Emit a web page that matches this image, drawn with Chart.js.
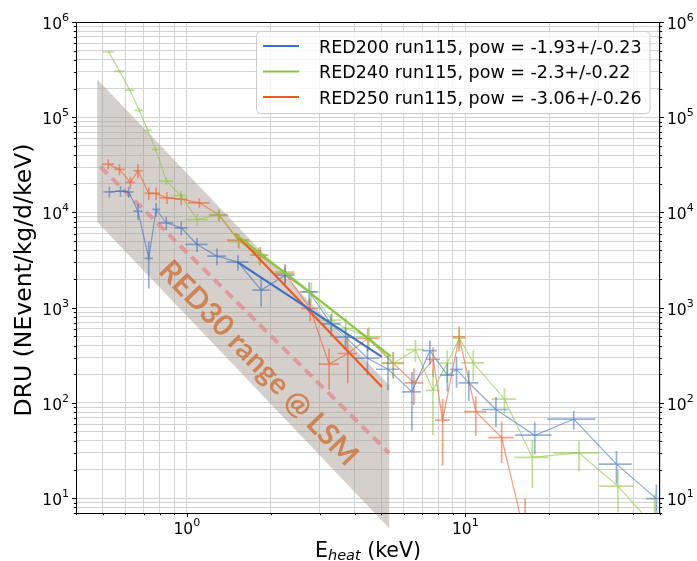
<!DOCTYPE html>
<html>
<head>
<meta charset="utf-8">
<script src="https://cdn.jsdelivr.net/npm/chart.js@4.4.1/dist/chart.umd.min.js"></script>
<style>
  html, body { margin: 0; padding: 0; background: #fff; }
</style>
</head>
<body>
<canvas id="chart" width="697" height="561"></canvas>
<script>
// RED200 run115 (blue)
const red200X = [0.527, 0.578, 0.618, 0.668, 0.730, 0.776, 0.844, 0.955, 1.088, 1.283, 1.526, 1.849, 2.254, 2.749, 3.295, 3.715, 4.454, 5.275, 6.43, 7.46, 8.62, 9.30, 10.29, 12.88, 17.75, 24.5, 34.9, 48.5];
const red200Y = [16500, 16790, 16500, 10340, 3296, 10780, 7795, 6906, 4623, 3483, 3013, 1531, 2199, 1469, 677, 491, 295, 226, 131, 354, 196, 225, 163, 85.5, 45.9, 67.6, 22.8, 9.9];
const red200XErr = [0.025, 0.025, 0.025, 0.025, 0.025, 0.025, 0.05, 0.05, 0.1, 0.1, 0.14, 0.13, 0.18, 0.2, 0.27, 0.3, 0.45, 0.5, 0.5, 0.45, 0.5, 0.5, 0.85, 1.4, 2.65, 4.8, 4.7, 4];
const red200YErr = [2150, 2150, 2100, 2000, 1700, 1800, 1300, 1150, 780, 700, 550, 500, 450, 400, 180, 130, 100, 90, 80, 100, 64, 80, 58, 30, 17, 15, 8.6, 4];

// RED240 run115 (green)
const red240X = [0.5245, 0.574, 0.624, 0.674, 0.724, 0.773, 0.844, 0.952, 1.090, 1.297, 1.542, 1.809, 2.254, 2.794, 3.314, 3.721, 4.510, 5.510, 6.62, 7.65, 8.61, 9.52, 10.68, 13.82, 17.39, 25.6, 35.3, 47.8];
const red240Y = [484000, 303400, 193100, 118200, 72850, 46000, 21530, 15050, 8423, 9506, 4947, 3567, 2383, 1469, 741, 606, 495, 260, 363, 136, 262, 479, 264, 110, 26.8, 29.9, 13.4, 5];
const red240XErr = [0.025, 0.025, 0.025, 0.025, 0.025, 0.025, 0.05, 0.05, 0.1, 0.1, 0.14, 0.13, 0.18, 0.2, 0.27, 0.3, 0.45, 0.5, 0.5, 0.45, 0.5, 0.5, 1.0, 1.4, 2.4, 4.8, 5, 4];
const red240YErr = [14000, 10000, 7000, 5000, 3500, 2500, 2000, 1800, 1200, 1300, 800, 700, 480, 360, 180, 180, 130, 80, 95, 90, 97, 110, 95, 33, 14, 10.7, 6.3, 6];

// RED250 run115 (orange)
const red250X = [0.522, 0.573, 0.627, 0.668, 0.730, 0.776, 0.849, 0.955, 1.109, 1.307, 1.533, 1.834, 2.254, 2.771, 3.242, 3.783, 4.462, 5.510, 6.538, 7.664, 8.285, 9.50, 10.9, 13.5, 16.4];
const red250Y = [32230, 28360, 20710, 27420, 15870, 15870, 14270, 13830, 12640, 9390, 5130, 3567, 2292, 983, 256, 331, 476, 262, 163, 288, 66, 495, 81, 43.4, 4];
const red250XErr = [0.025, 0.025, 0.025, 0.025, 0.025, 0.025, 0.05, 0.05, 0.1, 0.1, 0.14, 0.13, 0.18, 0.2, 0.27, 0.3, 0.45, 0.5, 0.5, 0.45, 0.5, 0.5, 1.0, 1.4, 2];
const red250YErr = [4000, 3700, 3000, 4600, 2400, 2400, 2000, 1900, 1400, 1300, 870, 790, 550, 265, 118, 170, 130, 82, 68, 100, 44, 146, 36, 20, 6];

// power law fits (end points)
const fit200X = [1.517, 5.02];
const fit200Y = [3034, 305];
const fit240X = [1.5, 5.4];
const fit240Y = [5890, 309];
const fit250X = [1.492, 5.02];
const fit250Y = [6030, 147.6];

// RED30 reference band and its central line
const bandX = [0.4766, 5.33, 5.33, 0.4766];
const bandY = [250000, 154, 4.84, 7930];
const dashX = [0.49, 5.33];
const dashY = [30200, 29.7];
const bandLabel = 'RED30 range @ LSM';
const bandLabelX = 1.808;
const bandLabelY = 262;

const legendLabels = [
  'RED200 run115, pow = -1.93+/-0.23',
  'RED240 run115, pow = -2.3+/-0.22',
  'RED250 run115, pow = -3.06+/-0.26'
];

// axes
const xMin = 0.4, xMax = 50;
const yMin = 7, yMax = 1e6;
const xTickValues = [1, 10];
const xTickExp = ['0', '1'];
const yTickValues = [10, 100, 1000, 1e4, 1e5, 1e6];
const yTickExp = ['1', '2', '3', '4', '5', '6'];

const blue = '61,114,192', green = '140,198,63', orange = '238,90,38';

function pts(xs, ys) {
  return xs.map(function (v, i) { return { x: v, y: ys[i] }; });
}

// all 1..9 x 10^n values inside the range (grid lines)
function logGrid(lo, hi) {
  const out = [];
  for (let e = Math.floor(Math.log10(lo)); e <= Math.ceil(Math.log10(hi)); e++) {
    for (let k = 1; k <= 9; k++) {
      const v = k * Math.pow(10, e);
      if (v >= lo * 0.999999 && v <= hi * 1.000001) out.push(v);
    }
  }
  return out;
}

function isDecade(v) {
  const l = Math.log10(v);
  return Math.abs(l - Math.round(l)) < 1e-6;
}

function fitLine(xs, ys, c) {
  return { data: pts(xs, ys), showLine: true, borderColor: 'rgb(' + c + ')', borderWidth: 2.2, pointRadius: 0, fill: false };
}

function dataLine(xs, ys, ex, ey, c) {
  return {
    data: pts(xs, ys), showLine: true, borderColor: 'rgba(' + c + ',0.6)', borderWidth: 1.2,
    pointRadius: 0, fill: false, errX: ex, errY: ey, errColor: 'rgba(' + c + ',0.55)'
  };
}

const overlay = {
  id: 'overlay',
  beforeDatasetsDraw(chart) {
    const { ctx, scales: { x, y } } = chart;
    ctx.save();
    // grey RED30 band
    ctx.beginPath();
    bandX.forEach(function (v, i) {
      const px = x.getPixelForValue(v), py = y.getPixelForValue(bandY[i]);
      if (i === 0) ctx.moveTo(px, py); else ctx.lineTo(px, py);
    });
    ctx.closePath();
    ctx.fillStyle = 'rgba(165,152,147,0.46)';
    ctx.fill();
    // rotated band label, sized to the band length
    ctx.translate(x.getPixelForValue(bandLabelX), y.getPixelForValue(bandLabelY));
    ctx.rotate(46 * Math.PI / 180);
    ctx.font = 'bold 28px Lato';
    const size = 28 * 272 / ctx.measureText(bandLabel).width;
    ctx.font = 'bold ' + size.toFixed(1) + 'px Lato';
    ctx.fillStyle = 'rgba(205,112,55,0.78)';
    ctx.textAlign = 'center';
    ctx.textBaseline = 'middle';
    ctx.fillText(bandLabel, 0, 0);
    ctx.restore();
  },
  afterDatasetDraw(chart, args) {
    const ds = chart.data.datasets[args.index];
    if (!ds.errX) return;
    const { ctx, chartArea: a, scales: { x, y } } = chart;
    ctx.save();
    ctx.beginPath();
    ctx.rect(a.left, a.top, a.right - a.left, a.bottom - a.top);
    ctx.clip();
    ctx.strokeStyle = ds.errColor;
    ctx.lineWidth = 1.7;
    ds.data.forEach(function (p, i) {
      const px = x.getPixelForValue(p.x), py = y.getPixelForValue(p.y);
      const ex = ds.errX[i], ey = ds.errY[i];
      const lo = p.y - ey;
      ctx.beginPath();
      ctx.moveTo(x.getPixelForValue(p.x - ex), py);
      ctx.lineTo(x.getPixelForValue(p.x + ex), py);
      ctx.moveTo(px, lo > 0 ? y.getPixelForValue(lo) : a.bottom + 20);
      ctx.lineTo(px, y.getPixelForValue(p.y + ey));
      ctx.stroke();
    });
    ctx.restore();
  },
  afterDraw(chart) {
    const { ctx, chartArea: a, scales: { x, y } } = chart;
    ctx.save();
    // frame
    ctx.strokeStyle = '#000';
    ctx.lineWidth = 1;
    ctx.strokeRect(a.left + 0.5, a.top + 0.5, a.right - a.left - 1, a.bottom - a.top);

    // tick marks
    ctx.beginPath();
    x.ticks.forEach(function (t) {
      const px = Math.round(x.getPixelForValue(t.value)) + 0.5;
      const len = isDecade(t.value) ? 4 : 2.2;
      ctx.moveTo(px, a.bottom); ctx.lineTo(px, a.bottom + len);
    });
    y.ticks.forEach(function (t) {
      const py = Math.round(y.getPixelForValue(t.value)) + 0.5;
      const len = isDecade(t.value) ? 4 : 2.2;
      ctx.moveTo(a.left, py); ctx.lineTo(a.left - len, py);
      ctx.moveTo(a.right, py); ctx.lineTo(a.right + len, py);
    });
    ctx.stroke();

    // tick labels 10^n
    ctx.fillStyle = '#000';
    ctx.textBaseline = 'alphabetic';
    const base = '15.5px "DejaVu Sans"', sup = '11px "DejaVu Sans"';
    yTickValues.forEach(function (v, i) {
      const py = y.getPixelForValue(v);
      ctx.font = sup;
      const ew = ctx.measureText(yTickExp[i]).width;
      // left side
      ctx.textAlign = 'right';
      ctx.fillText(yTickExp[i], 69, py - 1);
      ctx.font = base;
      ctx.fillText('10', 69 - ew, py + 7);
      // right side
      ctx.textAlign = 'left';
      const bw = ctx.measureText('10').width;
      ctx.fillText('10', 667, py + 7);
      ctx.font = sup;
      ctx.fillText(yTickExp[i], 667 + bw, py - 1);
    });
    xTickValues.forEach(function (v, i) {
      const px = x.getPixelForValue(v);
      ctx.font = base;
      const bw = ctx.measureText('10').width;
      ctx.font = sup;
      const ew = ctx.measureText(xTickExp[i]).width;
      const left = px - (bw + ew) / 2;
      ctx.textAlign = 'left';
      ctx.fillText(xTickExp[i], left + bw, 526);
      ctx.font = base;
      ctx.fillText('10', left, 533.5);
    });

    // axis titles
    ctx.save();
    ctx.translate(31, 280);
    ctx.rotate(-Math.PI / 2);
    ctx.font = '23.5px "DejaVu Sans"';
    ctx.textAlign = 'center';
    ctx.fillText('DRU (NEvent/kg/d/keV)', 0, 0);
    ctx.restore();

    const tf = '20.5px "DejaVu Sans"';
    ctx.font = tf;
    const wE = ctx.measureText('E').width;
    const wU = ctx.measureText(' (keV)').width;
    ctx.font = 'italic 14.5px "DejaVu Sans"';
    const wH = ctx.measureText('heat').width;
    let cx = (a.left + a.right) / 2 - (wE + wH + wU) / 2;
    ctx.textAlign = 'left';
    ctx.font = tf;
    ctx.fillText('E', cx, 556.5);
    ctx.font = 'italic 14.5px "DejaVu Sans"';
    ctx.fillText('heat', cx + wE, 560);
    ctx.font = tf;
    ctx.fillText(' (keV)', cx + wE + wH, 556.5);

    // legend
    const lx = 256.5, ly = 31.5, lw = 393.5, lh = 82;
    ctx.beginPath();
    ctx.roundRect(lx, ly, lw, lh, 4);
    ctx.fillStyle = 'rgba(255,255,255,0.8)';
    ctx.fill();
    ctx.strokeStyle = '#cccccc';
    ctx.lineWidth = 1;
    ctx.stroke();
    const cols = [blue, green, orange];
    ctx.font = '17.5px "DejaVu Sans"';
    legendLabels.forEach(function (t, i) {
      const ry = 46 + i * 25.5;
      ctx.strokeStyle = 'rgb(' + cols[i] + ')';
      ctx.lineWidth = 2.2;
      ctx.beginPath();
      ctx.moveTo(263, ry); ctx.lineTo(299, ry);
      ctx.stroke();
      ctx.fillStyle = '#000';
      ctx.fillText(t, 319, ry + 6.5);
    });
    ctx.restore();
  }
};

const gridColor = '#d2d2d2';

new Chart(document.getElementById('chart').getContext('2d'), {
  type: 'scatter',
  data: {
    datasets: [
      fitLine(fit200X, fit200Y, blue),
      fitLine(fit240X, fit240Y, green),
      fitLine(fit250X, fit250Y, orange),
      dataLine(red200X, red200Y, red200XErr, red200YErr, blue),
      dataLine(red240X, red240Y, red240XErr, red240YErr, green),
      dataLine(red250X, red250Y, red250XErr, red250YErr, orange),
      { data: pts(dashX, dashY), showLine: true, borderColor: 'rgba(232,120,128,0.6)', borderWidth: 4, borderDash: [10, 6], pointRadius: 0, fill: false }
    ]
  },
  options: {
    responsive: false,
    animation: false,
    devicePixelRatio: 1,
    layout: { padding: { top: 22, left: 0, right: 0, bottom: 0 } },
    plugins: { legend: { display: false }, tooltip: { enabled: false } },
    scales: {
      x: {
        type: 'logarithmic', min: xMin, max: xMax, position: 'bottom',
        afterBuildTicks: function (s) { s.ticks = logGrid(xMin, xMax).map(function (v) { return { value: v }; }); },
        afterFit: function (s) { s.height = 48; },
        ticks: { display: false },
        grid: { color: gridColor, lineWidth: 1, drawTicks: false },
        border: { display: false }
      },
      y: {
        type: 'logarithmic', min: yMin, max: yMax, position: 'left',
        afterBuildTicks: function (s) { s.ticks = logGrid(yMin, yMax).map(function (v) { return { value: v }; }); },
        afterFit: function (s) { s.width = 76; },
        ticks: { display: false },
        grid: { color: gridColor, lineWidth: 1, drawTicks: false },
        border: { display: false }
      },
      y2: {
        type: 'logarithmic', min: yMin, max: yMax, position: 'right',
        afterFit: function (s) { s.width = 37; },
        ticks: { display: false },
        grid: { drawOnChartArea: false, drawTicks: false },
        border: { display: false }
      }
    }
  },
  plugins: [overlay]
});
</script>
</body>
</html>
